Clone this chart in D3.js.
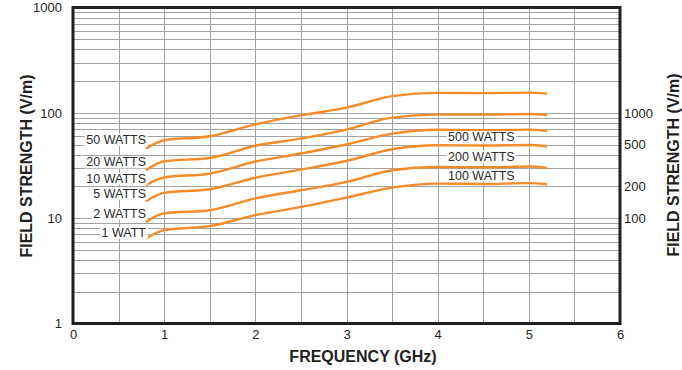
<!DOCTYPE html>
<html>
<head>
<meta charset="utf-8">
<script src="https://cdn.jsdelivr.net/npm/d3@7/dist/d3.min.js"></script>
<style>
  html, body { margin: 0; padding: 0; background: #fff; }
  svg { display: block; }
  text { font-family: "Liberation Sans", Arial, Helvetica, sans-serif; fill: #231f20; }
</style>
</head>
<body>
<svg id="chart" width="682" height="370"></svg>
<script>
// Frequency sample points (GHz)
const freqs = [0.8, 1.0, 1.5, 2.0, 2.5, 3.0, 3.5, 4.0, 4.5, 5.0, 5.2];

// Field strength (V/m) per amplifier power
const field50W = [45.8, 54.9, 59.9, 77.8, 94.7, 112, 143.9, 154.8, 154, 155.4, 152];
const field20W = [28.5, 34.7, 37.3, 48.7, 56.9, 69.3, 90, 96.1, 96.1, 97.4, 95.3];
const field10W = [20.6, 24.3, 26.5, 34.5, 41.1, 50, 63.5, 69, 68.3, 69.3, 67.2];
const field5W  = [14.5, 17.4, 18.8, 24.2, 28.9, 34.9, 45.1, 49.2, 48.9, 49.5, 48.1];
const field2W  = [9.22, 11.1, 11.9, 15.4, 18.4, 22.1, 28.5, 30.6, 30.4, 30.9, 30.0];
const field1W  = [6.42, 7.70, 8.40, 10.7, 12.8, 15.7, 19.5, 21.3, 21.1, 21.5, 21.0];

const seriesValues = [field50W, field20W, field10W, field5W, field2W, field1W];
const leftLabels  = ["50 WATTS", "20 WATTS", "10 WATTS", "5 WATTS", "2 WATTS", "1 WATT"];
const rightLabels = ["500 WATTS", "200 WATTS", "100 WATTS"];

// Axis ticks
const xTicks = [0, 1, 2, 3, 4, 5, 6];
const leftTicks = [1, 10, 100, 1000];
const rightTicks = [100, 200, 500, 1000];

const svg = d3.select("#chart");
const plot = { left: 73, right: 620, top: 7.5, bottom: 323.5 };

const x = d3.scaleLinear().domain([0, 6]).range([plot.left, plot.right]);
const y = d3.scaleLog().domain([1, 1000]).range([plot.bottom, plot.top]);
const yRight = d3.scaleLog().domain([10, 10000]).range([plot.bottom, plot.top]);

const gridColor = "#a3a3a3";

// Horizontal log grid
const grid = svg.append("g").attr("class", "grid");
const hLines = [];
[1, 10, 100].forEach(dec => { for (let m = 1; m <= 9; m++) hLines.push(dec * m); });
hLines.push(1000);
grid.selectAll("line.h").data(hLines).join("line")
  .attr("class", "h")
  .attr("x1", plot.left).attr("x2", plot.right)
  .attr("y1", d => Math.round(y(d)) + 0.5).attr("y2", d => Math.round(y(d)) + 0.5)
  .attr("stroke", gridColor).attr("stroke-width", 1);

// Vertical grid every 0.5 GHz
grid.selectAll("line.v").data(d3.range(0.5, 6, 0.5)).join("line")
  .attr("class", "v")
  .attr("y1", plot.top).attr("y2", plot.bottom)
  .attr("x1", d => Math.round(x(d)) + 0.5).attr("x2", d => Math.round(x(d)) + 0.5)
  .attr("stroke", gridColor).attr("stroke-width", 1);

// Curves
const line = d3.line()
  .x((d, i) => x(freqs[i]))
  .y(d => y(d))
  .curve(d3.curveMonotoneX);

svg.append("g").selectAll("path").data(seriesValues).join("path")
  .attr("d", d => line(d))
  .attr("fill", "none")
  .attr("stroke", "#f68b28")
  .attr("stroke-width", 2.4)
  .attr("stroke-linecap", "butt");

// Curve labels with white backing so grid lines break around them
function labelWithBacking(g, txt, tx, ty, anchor) {
  const t = g.append("text")
    .attr("x", tx).attr("y", ty)
    .attr("text-anchor", anchor)
    .attr("dominant-baseline", "central")
    .attr("font-size", "12.5px")
    .style("fill", "#2b2b2b")
    .text(txt);
  const b = t.node().getBBox();
  g.insert("rect", "text")
    .attr("x", b.x - 1.5).attr("y", b.y + 1)
    .attr("width", b.width + 3).attr("height", b.height - 2)
    .attr("fill", "#fff");
}

const labelsG = svg.append("g");
// left labels sit just left of each curve start, near its first value
const leftLabelY = [140, 162.3, 178.7, 193.7, 214, 232.7];
leftLabels.forEach((t, i) => {
  const g = labelsG.append("g");
  labelWithBacking(g, t, 146, leftLabelY[i], "end");
});
const rightLabelY = [137, 157, 175.5];
rightLabels.forEach((t, i) => {
  const g = labelsG.append("g");
  labelWithBacking(g, t, 448, rightLabelY[i], "start");
});

// Plot frame
svg.append("rect")
  .attr("x", plot.left).attr("y", plot.top)
  .attr("width", plot.right - plot.left).attr("height", plot.bottom - plot.top)
  .attr("fill", "none").attr("stroke", "#231f20").attr("stroke-width", 3);

// Left axis
const leftAxis = svg.append("g")
  .attr("transform", `translate(${plot.left - 11},0)`)
  .call(d3.axisLeft(y).tickValues(leftTicks).tickFormat(d3.format("d")).tickSize(0).tickPadding(0));
leftAxis.select(".domain").remove();
leftAxis.selectAll("text").attr("font-size", "13px").style("font-family", null).attr("font-family", null);

// Right axis (scaled for high-power amplifiers)
const rightAxis = svg.append("g")
  .attr("transform", `translate(${plot.right + 4},0)`)
  .call(d3.axisRight(yRight).tickValues(rightTicks).tickFormat(d3.format("d")).tickSize(0).tickPadding(0));
rightAxis.select(".domain").remove();
rightAxis.selectAll("text").attr("font-size", "13px").attr("font-family", null);

// Bottom axis
const bottomAxis = svg.append("g")
  .attr("transform", `translate(0,${plot.bottom + 6})`)
  .call(d3.axisBottom(x).tickValues(xTicks).tickFormat(d3.format("d")).tickSize(0).tickPadding(0));
bottomAxis.select(".domain").remove();
bottomAxis.selectAll("text").attr("font-size", "13px").attr("font-family", null);

svg.selectAll(".tick text").style("fill", "#231f20");

// Axis titles
svg.append("text")
  .attr("x", 363).attr("y", 356)
  .attr("text-anchor", "middle").attr("dominant-baseline", "central")
  .attr("font-size", "16px").attr("font-weight", "bold")
  .text("FREQUENCY (GHz)");

svg.append("text")
  .attr("transform", "translate(26,166) rotate(-90)")
  .attr("text-anchor", "middle").attr("dominant-baseline", "central")
  .attr("font-size", "16px").attr("font-weight", "bold")
  .text("FIELD STRENGTH (V/m)");

svg.append("text")
  .attr("transform", "translate(673,165) rotate(-90)")
  .attr("text-anchor", "middle").attr("dominant-baseline", "central")
  .attr("font-size", "16px").attr("font-weight", "bold")
  .text("FIELD STRENGTH (V/m)");
</script>
</body>
</html>
